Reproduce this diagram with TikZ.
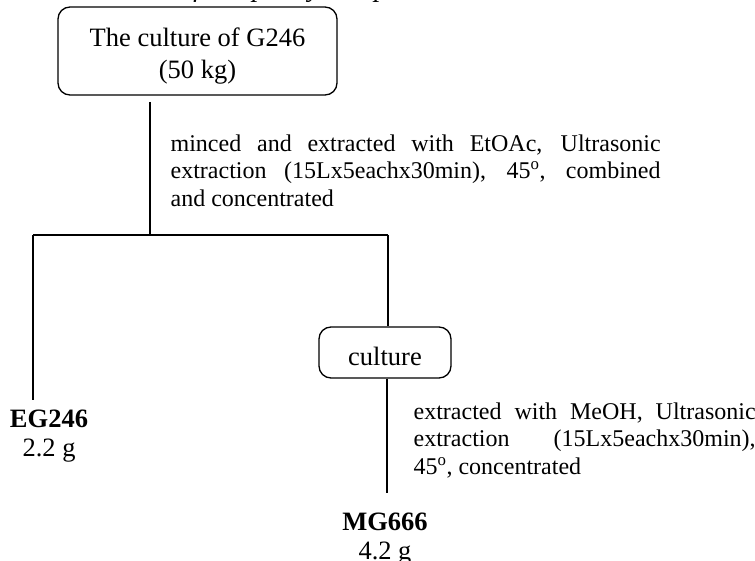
\documentclass[tikz,border=0pt]{standalone}
\usepackage{fontspec}
\setmainfont{Liberation Serif}
\begin{document}
\begin{tikzpicture}[x=1pt,y=-1pt,
  line width=1.3pt,
  box/.style={draw, rounded corners=12pt, line width=1.3pt, align=center,
    inner sep=0pt, font=\fontsize{26.5}{32}\selectfont},
  result/.style={align=center, inner sep=0pt, font=\fontsize{26.5}{29}\selectfont},
  note/.style={align=justify, inner sep=0pt, anchor=north west,
    font=\fontsize{24}{27.5}\selectfont},
  conn/.style={draw, line width=1.3pt}]
\useasboundingbox (0,0) rectangle (755,561);
\clip (0,0) rectangle (755,561);
% clipped caption at the very top
\node[anchor=base west, inner sep=0pt, font=\fontsize{28}{30}\itshape] (cap) at (108,-3) {tracts of Streptomyces sp. G246};
% top box
\node[box, minimum width=279pt, minimum height=88pt] (top) at (197.5,51) {\rule{0pt}{29pt}The culture of G246\\(50 kg)};
\coordinate (t1) at (150,102);
\coordinate (j1) at (150,235);
\coordinate (hl) at (33,235);
\coordinate (hr) at (388,235);
\draw[conn] (t1) -- (j1);
\draw[conn] (hl) -- (hr);
\node[note, text width=490pt] (n1) at (170,134) {minced and extracted with EtOAc, Ultrasonic\linebreak extraction (15Lx5eachx30min), 45\textsuperscript{o}, combined\linebreak and concentrated};
% left result
\node[result] (eg) at (49,436) {\textbf{EG246}\\2.2 g};
\coordinate (egt) at (33,400);
\draw[conn] (hl) -- (egt);
% culture box
\node[box, minimum width=132pt, minimum height=51pt] (cul) at (385,352.5) {\rule{0pt}{25.5pt}culture};
\draw[conn] (hr) -- (hr |- cul.north);
\coordinate (mgt) at (387,493);
\draw[conn] (cul.south -| mgt) -- (mgt);
\node[note, text width=342pt] (n2) at (413,402) {extracted with MeOH, Ultrasonic\linebreak extraction (15Lx5eachx30min),\linebreak 45\textsuperscript{o}, concentrated};
\node[result] (mg) at (385,539) {\textbf{MG666}\\4.2 g};
\end{tikzpicture}
\end{document}
